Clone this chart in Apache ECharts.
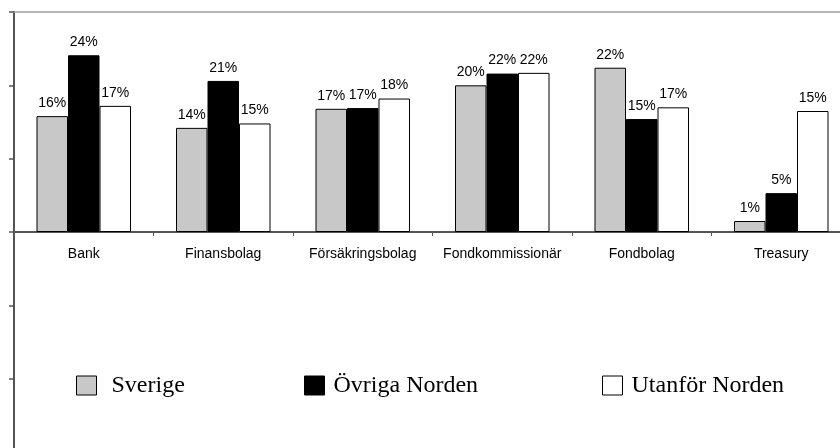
<!DOCTYPE html>
<html>
<head>
<meta charset="utf-8">
<script src="https://cdn.jsdelivr.net/npm/echarts@6/dist/echarts.min.js"></script>
<style>html,body{margin:0;padding:0;background:#fff;}#c{width:840px;height:448px;}</style>
</head>
<body>
<div id="c"></div>
<script>
const categories = ['Bank', 'Finansbolag', 'Försäkringsbolag', 'Fondkommissionär', 'Fondbolag', 'Treasury'];
const seriesNames = ['Sverige', 'Övriga Norden', 'Utanför Norden'];
const sverige = [15.8, 14.2, 16.8, 20.0, 22.4, 1.5];
const ovriga = [24.1, 20.6, 16.9, 21.6, 15.4, 5.3];
const utanfor = [17.2, 14.8, 18.2, 21.7, 17.0, 16.5];
const sverigeLabels = ['16%', '14%', '17%', '20%', '22%', '1%'];
const ovrigaLabels = ['24%', '21%', '17%', '22%', '15%', '5%'];
const utanforLabels = ['17%', '15%', '18%', '22%', '17%', '15%'];

const fills = ['#c8c8c8', '#000000', '#ffffff'];
const sans = 'Liberation Sans, Arial, sans-serif';
const serif = 'Liberation Serif, Times New Roman, serif';
const axisColor = '#555';

function mkSeries(name, values, labels, fill) {
  return {
    name: name, type: 'bar', xAxisIndex: 0, yAxisIndex: 0,
    data: values, barWidth: 31.5, barGap: '0%',
    itemStyle: { color: fill, borderColor: '#000', borderWidth: 1 },
    label: {
      show: true, position: 'top', distance: 6,
      fontFamily: sans, fontSize: 14, color: '#000',
      formatter: function (p) { return labels[p.dataIndex]; }
    },
    emphasis: { disabled: true }, animation: false
  };
}

function mkLegend(idx, left, padLeft) {
  return {
    show: true, left: left, top: 373.5, padding: 0, selectedMode: false,
    itemWidth: 20, itemHeight: 19, icon: 'rect',
    data: [{ name: seriesNames[idx], itemStyle: { color: fills[idx], borderColor: '#000', borderWidth: 1 } }],
    textStyle: { fontFamily: serif, fontSize: 24, color: '#000', lineHeight: 24, padding: [0, 0, 0, padLeft] }
  };
}

const chart = echarts.init(document.getElementById('c'), null, { renderer: 'canvas' });
chart.setOption({
  animation: false,
  backgroundColor: '#ffffff',
  grid: [
    { left: 14, top: 12, width: 837, height: 220, containLabel: false, outerBoundsMode: 'none' },
    { left: 14, top: 232, width: 837, height: 220, containLabel: false, outerBoundsMode: 'none' }
  ],
  legend: [mkLegend(0, 76, 10), mkLegend(1, 304, 4), mkLegend(2, 602, 4)],
  xAxis: [{
    type: 'category', gridIndex: 0, data: categories, position: 'bottom',
    axisLine: { show: true, onZero: false, lineStyle: { color: axisColor, width: 2 } },
    axisTick: { show: true, alignWithLabel: false, interval: 0, length: 4, lineStyle: { color: axisColor, width: 1 } },
    axisLabel: { show: true, interval: 0, margin: 15, hideOverlap: false, fontFamily: sans, fontSize: 14, color: '#000' },
    splitLine: { show: false }
  }, {
    type: 'category', gridIndex: 0, data: categories, position: 'top',
    axisLine: { show: true, onZero: false, lineStyle: { color: '#a0a0a0', width: 1.5 } },
    axisTick: { show: false }, axisLabel: { show: false }, splitLine: { show: false }
  }, {
    type: 'category', gridIndex: 1, data: categories, show: false
  }],
  yAxis: [{
    type: 'value', gridIndex: 0, min: 0, max: 30, interval: 10,
    axisLine: { show: true, lineStyle: { color: axisColor, width: 2 } },
    axisTick: { show: true, length: 5, lineStyle: { color: axisColor, width: 1.5 } },
    axisLabel: { show: false },
    splitLine: { show: false }
  }, {
    type: 'value', gridIndex: 1, min: -30, max: 0, interval: 10,
    axisLine: { show: true, lineStyle: { color: axisColor, width: 2 } },
    axisTick: { show: true, length: 5, lineStyle: { color: axisColor, width: 1.5 } },
    axisLabel: { show: false },
    splitLine: { show: false }
  }],
  series: [
    mkSeries(seriesNames[0], sverige, sverigeLabels, fills[0]),
    mkSeries(seriesNames[1], ovriga, ovrigaLabels, fills[1]),
    mkSeries(seriesNames[2], utanfor, utanforLabels, fills[2])
  ]
});
</script>
</body>
</html>
